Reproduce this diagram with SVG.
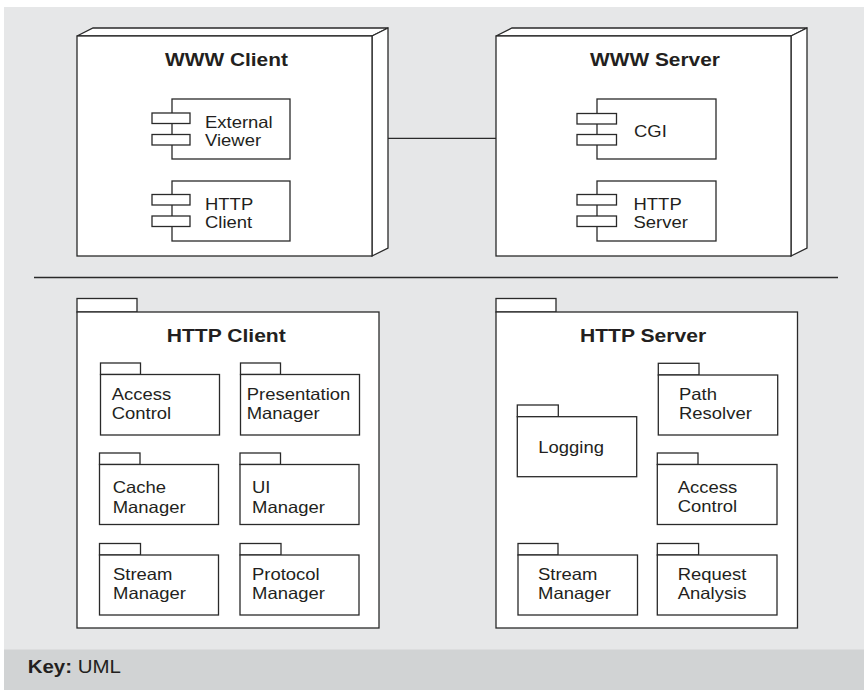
<svg xmlns="http://www.w3.org/2000/svg" width="864" height="690" viewBox="0 0 864 690">
<style>
  .ln{fill:none;stroke:#2a2a2a;stroke-width:1.3}
  .bx{fill:#ffffff;stroke:#2a2a2a;stroke-width:1.3}
  .t{font-family:"Liberation Sans",Arial,sans-serif;font-size:16.5px;fill:#231f20}
  .h{font-family:"Liberation Sans",Arial,sans-serif;font-size:18.5px;font-weight:bold;fill:#231f20}
  .k{font-family:"Liberation Sans",Arial,sans-serif;font-size:17.5px;fill:#231f20}
</style>
<rect x="0" y="0" width="864" height="690" fill="#ffffff"/>
<rect x="4" y="7" width="860" height="643" fill="#e6e7e8"/>
<rect x="4" y="649.5" width="860" height="40.5" fill="#d1d3d4"/>

<g id="connectors">
  <line class="ln" x1="388" y1="138.3" x2="496" y2="138.3"/>
</g>

<line class="ln" x1="34" y1="277.5" x2="838" y2="277.5"/>

<g id="www-client">
  <polygon class="bx" points="77,36 93,28 388,28 372,36"/>
  <polygon class="bx" points="372,36 388,28 388,248 372,256"/>
  <rect class="bx" x="77" y="36" width="295" height="220"/>
  <text class="h" transform="matrix(1.13 0 0 1 165 66)">WWW Client</text>
  <g id="external-viewer">
    <rect class="bx" x="172" y="99" width="118" height="60"/>
    <rect class="bx" x="152" y="113" width="38" height="10.5"/>
    <rect class="bx" x="152" y="134.5" width="38" height="10.5"/>
    <text class="t" transform="matrix(1.12 0 0 1 205 128.3)">External</text>
    <text class="t" transform="matrix(1.12 0 0 1 205 145.9)">Viewer</text>
  </g>
  <g id="http-client-comp">
    <rect class="bx" x="172" y="181" width="118" height="60"/>
    <rect class="bx" x="152" y="194.5" width="38" height="10.5"/>
    <rect class="bx" x="152" y="216" width="38" height="10.5"/>
    <text class="t" transform="matrix(1.12 0 0 1 205 210)">HTTP</text>
    <text class="t" transform="matrix(1.12 0 0 1 205 228.3)">Client</text>
  </g>
</g>

<g id="www-server">
  <polygon class="bx" points="496,36 512,28 807,28 791,36"/>
  <polygon class="bx" points="791,36 807,28 807,248 791,256"/>
  <rect class="bx" x="496" y="36" width="295" height="220"/>
  <text class="h" transform="matrix(1.13 0 0 1 590 65.5)">WWW Server</text>
  <g id="cgi">
    <rect class="bx" x="597" y="99" width="119" height="60"/>
    <rect class="bx" x="577" y="113.5" width="39.5" height="10.5"/>
    <rect class="bx" x="577" y="134.5" width="39.5" height="10.5"/>
    <text class="t" transform="matrix(1.12 0 0 1 634 137)">CGI</text>
  </g>
  <g id="http-server-comp">
    <rect class="bx" x="597" y="181" width="119" height="60"/>
    <rect class="bx" x="577" y="194.5" width="39.5" height="10.5"/>
    <rect class="bx" x="577" y="216" width="39.5" height="10.5"/>
    <text class="t" transform="matrix(1.12 0 0 1 633.5 210)">HTTP</text>
    <text class="t" transform="matrix(1.12 0 0 1 633.5 228.3)">Server</text>
  </g>
</g>

<g id="http-client-pkg">
  <rect class="bx" x="77" y="298.5" width="60" height="13.5"/>
  <rect class="bx" x="77" y="312" width="302" height="316"/>
  <text class="h" transform="matrix(1.14 0 0 1 166.7 341.7)">HTTP Client</text>
  <g id="c-access-control">
    <rect class="bx" x="100.5" y="363" width="40" height="11.5"/>
    <rect class="bx" x="100.5" y="374.5" width="119" height="60.5"/>
    <text class="t" transform="matrix(1.12 0 0 1 111.7 400)">Access</text>
    <text class="t" transform="matrix(1.12 0 0 1 111.7 419.3)">Control</text>
  </g>
  <g id="c-presentation-manager">
    <rect class="bx" x="240.5" y="363" width="40" height="11.5"/>
    <rect class="bx" x="240.5" y="374.5" width="119" height="60.5"/>
    <text class="t" transform="matrix(1.12 0 0 1 246.7 400)">Presentation</text>
    <text class="t" transform="matrix(1.12 0 0 1 246.7 419.3)">Manager</text>
  </g>
  <g id="c-cache-manager">
    <rect class="bx" x="99.5" y="453" width="40.5" height="11.5"/>
    <rect class="bx" x="99.5" y="464.5" width="119" height="60"/>
    <text class="t" transform="matrix(1.12 0 0 1 112.7 493.3)">Cache</text>
    <text class="t" transform="matrix(1.12 0 0 1 112.7 512.5)">Manager</text>
  </g>
  <g id="c-ui-manager">
    <rect class="bx" x="240" y="453" width="40.5" height="11.5"/>
    <rect class="bx" x="240" y="464.5" width="119" height="60"/>
    <text class="t" transform="matrix(1.12 0 0 1 252 493.3)">UI</text>
    <text class="t" transform="matrix(1.12 0 0 1 252 512.5)">Manager</text>
  </g>
  <g id="c-stream-manager">
    <rect class="bx" x="99.5" y="543.5" width="41" height="11.5"/>
    <rect class="bx" x="99.5" y="555" width="119" height="60"/>
    <text class="t" transform="matrix(1.12 0 0 1 113 580)">Stream</text>
    <text class="t" transform="matrix(1.12 0 0 1 113 598.5)">Manager</text>
  </g>
  <g id="c-protocol-manager">
    <rect class="bx" x="240" y="543.5" width="41" height="11.5"/>
    <rect class="bx" x="240" y="555" width="119" height="60"/>
    <text class="t" transform="matrix(1.12 0 0 1 252 580)">Protocol</text>
    <text class="t" transform="matrix(1.12 0 0 1 252 598.5)">Manager</text>
  </g>
</g>

<g id="http-server-pkg">
  <rect class="bx" x="496" y="298.5" width="60" height="13.5"/>
  <rect class="bx" x="496" y="312" width="301.5" height="316"/>
  <text class="h" transform="matrix(1.14 0 0 1 580 341.7)">HTTP Server</text>
  <g id="s-path-resolver">
    <rect class="bx" x="658.3" y="363.3" width="40.7" height="11.7"/>
    <rect class="bx" x="658.3" y="375" width="119.4" height="60"/>
    <text class="t" transform="matrix(1.12 0 0 1 679 400)">Path</text>
    <text class="t" transform="matrix(1.12 0 0 1 679 419.3)">Resolver</text>
  </g>
  <g id="s-logging">
    <rect class="bx" x="517.3" y="405" width="41" height="11.7"/>
    <rect class="bx" x="517.3" y="416.7" width="119.4" height="60"/>
    <text class="t" transform="matrix(1.12 0 0 1 538.3 453.3)">Logging</text>
  </g>
  <g id="s-access-control">
    <rect class="bx" x="657.3" y="453" width="40.7" height="11.5"/>
    <rect class="bx" x="657.3" y="464.5" width="119.7" height="60"/>
    <text class="t" transform="matrix(1.12 0 0 1 677.7 493)">Access</text>
    <text class="t" transform="matrix(1.12 0 0 1 677.7 512)">Control</text>
  </g>
  <g id="s-stream-manager">
    <rect class="bx" x="518" y="543.5" width="40" height="11.5"/>
    <rect class="bx" x="518" y="555" width="119.5" height="60"/>
    <text class="t" transform="matrix(1.12 0 0 1 538 580)">Stream</text>
    <text class="t" transform="matrix(1.12 0 0 1 538 598.5)">Manager</text>
  </g>
  <g id="s-request-analysis">
    <rect class="bx" x="657.3" y="543.5" width="41.3" height="11.5"/>
    <rect class="bx" x="657.3" y="555" width="119.7" height="60"/>
    <text class="t" transform="matrix(1.12 0 0 1 677.7 580)">Request</text>
    <text class="t" transform="matrix(1.12 0 0 1 677.7 598.5)">Analysis</text>
  </g>
</g>

<g id="key">
  <text class="k" transform="matrix(1.17 0 0 1 27.7 673.3)"><tspan font-weight="bold">Key:</tspan> UML</text>
</g>
</svg>
